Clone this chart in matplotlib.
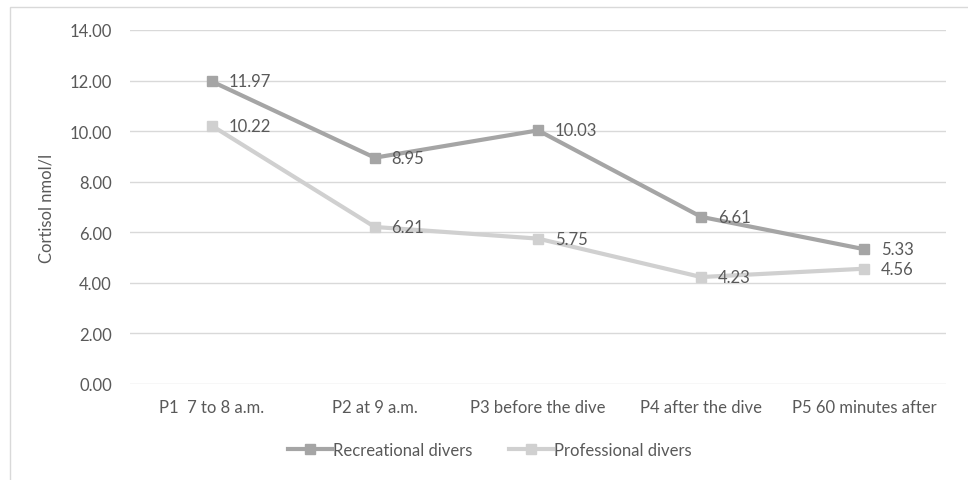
import matplotlib.pyplot as plt
from matplotlib.patches import Rectangle

plt.rcParams['font.family'] = ['Lato', 'DejaVu Sans']

categories = ['P1  7 to 8 a.m.', 'P2 at 9 a.m.', 'P3 before the dive',
              'P4 after the dive', 'P5 60 minutes after']
recreational = [11.97, 8.95, 10.03, 6.61, 5.33]
professional = [10.22, 6.21, 5.75, 4.23, 4.56]
y_ticks = [0, 2, 4, 6, 8, 10, 12, 14]

text_col = '#595959'
grid_col = '#D9D9D9'
rec_col = '#A5A5A5'
pro_col = '#D0D0D0'
fs = 12

W, H = 968, 481
fig = plt.figure(figsize=(W / 100, H / 100), dpi=100)
ax = fig.add_axes([130 / W, 1 - 385 / H, (946 - 130) / W, (385 - 31) / H])

# outer chart border (only top/left edges fall inside the image)
fig.patches.append(Rectangle((10 / W, -0.1), 1.2, 1 - 8 / H + 0.1,
                             transform=fig.transFigure, fill=False,
                             edgecolor=grid_col, linewidth=1))

x = list(range(len(categories)))
ax.plot(x, recreational, color=rec_col, lw=3, marker='s', ms=7,
        label='Recreational divers', zorder=3)
ax.plot(x, professional, color=pro_col, lw=3, marker='s', ms=7,
        label='Professional divers', zorder=3)

for xi, v in zip(x, recreational):
    ax.annotate(f'{v:.2f}', (xi, v), xytext=(12, 0), textcoords='offset points',
                va='center', ha='left', fontsize=fs, color=text_col)
for xi, v in zip(x, professional):
    ax.annotate(f'{v:.2f}', (xi, v), xytext=(12, 0), textcoords='offset points',
                va='center', ha='left', fontsize=fs, color=text_col)

ax.set_xlim(-0.5, len(categories) - 0.5)
ax.set_ylim(0, 14)
ax.set_yticks(y_ticks)
ax.set_yticklabels([f'{t:.2f}' for t in y_ticks])
ax.set_xticks(x)
ax.set_xticklabels(categories)
ax.tick_params(length=0, labelsize=fs, colors=text_col)
ax.tick_params(axis='x', pad=11)
ax.tick_params(axis='y', pad=13)
ax.grid(axis='y', color=grid_col, lw=1)
ax.set_axisbelow(True)
for s in ax.spines.values():
    s.set_visible(False)
ax.set_ylabel('Cortisol nmol/l', fontsize=fs, color=text_col, labelpad=11)

fig.legend(loc='center', bbox_to_anchor=(490 / W, 1 - 451 / H), ncol=2,
           frameon=False, fontsize=fs, labelcolor=text_col,
           handlelength=2.6, handletextpad=0.1, columnspacing=2.2)

fig.savefig('out.png', dpi=100)
